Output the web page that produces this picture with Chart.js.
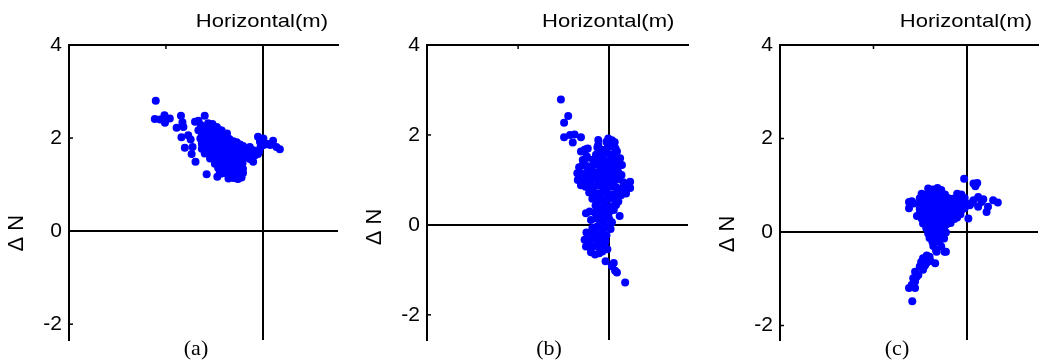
<!DOCTYPE html>
<html><head><meta charset="utf-8">
<script src="https://cdn.jsdelivr.net/npm/chart.js@4.4.1/dist/chart.umd.min.js"></script>
<style>
html,body{margin:0;padding:0;background:#fff;width:1042px;height:364px;overflow:hidden;}
.p{position:absolute;top:0;height:364px;}
canvas{display:block;}
</style></head><body>
<div class="p" style="left:0;width:350px"><canvas id="ca" width="350" height="364"></canvas></div>
<div class="p" style="left:350px;width:342px"><canvas id="cb" width="342" height="364"></canvas></div>
<div class="p" style="left:692px;width:350px"><canvas id="cc" width="350" height="364"></canvas></div>
<script>
const xTitle = 'Horizontal(m)';
const yTitle = 'Δ N';
const captions = ['(a)', '(b)', '(c)'];
const yTicks = [-2, 0, 2, 4];
const xTicks = [-4, -2, 0];

const pointsA = [
[-2.21,2.80],[-2.23,2.41],[-2.12,2.40],[-2.03,2.49],[-2.02,2.33],[-1.92,2.42],[-1.78,2.22],[-1.69,2.48],[-1.66,2.34],[-1.64,2.24],
[-1.68,2.02],[-1.54,2.06],[-1.49,1.97],[-1.61,1.79],[-1.45,1.81],[-1.47,1.66],[-1.39,1.49],[-1.40,2.35],[-1.33,2.37],[-1.20,2.48],
[-1.28,2.28],[-1.33,2.17],[-1.16,1.22],[-0.94,1.17],[-0.85,1.24],[-0.54,1.13],
[-1.13,2.32],[-1.04,2.30],[-0.95,2.24],[-0.85,2.16],[-0.74,2.10],[-0.54,1.91],[-0.41,1.83],
[-1.20,2.21],[-1.10,2.20],[-1.00,2.22],[-0.90,2.18],
[-1.26,2.10],[-1.16,2.11],[-1.06,2.08],[-0.96,2.10],[-0.86,2.07],[-0.76,2.04],
[-1.29,1.99],[-1.19,1.98],[-1.09,2.00],[-0.99,1.97],[-0.89,1.99],[-0.79,1.96],[-0.69,1.98],[-0.61,1.93],
[-1.26,1.88],[-1.16,1.87],[-1.06,1.89],[-0.96,1.86],[-0.86,1.88],[-0.76,1.85],[-0.66,1.87],[-0.56,1.84],[-0.47,1.86],
[-1.26,1.77],[-1.16,1.76],[-1.06,1.78],[-0.96,1.75],[-0.86,1.77],[-0.76,1.74],[-0.66,1.76],[-0.56,1.73],[-0.46,1.75],[-0.37,1.72],[-0.27,1.76],[-0.20,1.74],
[-1.20,1.67],[-1.10,1.65],[-1.00,1.68],[-0.90,1.66],[-0.80,1.64],[-0.70,1.67],[-0.60,1.65],[-0.50,1.63],[-0.40,1.66],[-0.30,1.64],[-0.20,1.62],[-0.10,1.66],
[-1.09,1.56],[-0.99,1.54],[-0.89,1.57],[-0.79,1.55],[-0.69,1.53],[-0.59,1.56],[-0.49,1.54],[-0.39,1.57],[-0.27,1.55],
[-0.99,1.45],[-0.89,1.44],[-0.79,1.46],[-0.69,1.43],[-0.59,1.45],[-0.49,1.44],[-0.42,1.46],
[-0.92,1.35],[-0.82,1.34],[-0.72,1.36],[-0.62,1.33],[-0.52,1.35],[-0.41,1.34],
[-0.89,1.24],[-0.79,1.25],[-0.69,1.23],[-0.59,1.26],[-0.49,1.24],[-0.41,1.25],
[-0.71,1.13],[-0.61,1.14],[-0.51,1.12],[-0.44,1.15],
[-0.34,1.71],[-0.27,1.81],[-0.23,1.56],[-0.16,1.63],[-0.13,1.72],[-0.20,1.49],[-0.10,2.03],[-0.06,1.92],[-0.05,1.80],[0.01,1.99],
[0.02,1.85],[0.08,1.88],[0.15,1.85],[0.21,1.94],[0.28,1.81],[0.35,1.76],[-0.08,1.70],[-0.30,1.62]
];

const pointsB = [
[-1.06,2.79],[-0.90,2.42],[-0.99,2.27],[-0.99,1.95],[-0.76,2.01],[-0.80,1.83],[-0.62,1.95],[-0.62,1.63],[-0.51,1.68],[-0.49,1.52],
[-0.24,1.89],[-0.24,1.78],[-0.86,2.00],[-0.54,1.67],[-0.47,1.70],[-0.58,1.44],
[-0.02,1.92],[0.06,1.88],[0.12,1.84],[-0.06,1.85],[0.10,1.78],
[-0.26,1.72],[-0.15,1.67],[-0.03,1.73],[0.07,1.75],[0.14,1.70],
[-0.29,1.56],[-0.17,1.58],[-0.07,1.60],[0.03,1.57],[0.13,1.60],[0.17,1.63],
[-0.51,1.48],[-0.36,1.45],[-0.22,1.46],[-0.12,1.44],[-0.02,1.42],[0.08,1.45],[0.18,1.43],[0.24,1.48],
[-0.66,1.28],[-0.59,1.32],[-0.49,1.31],[-0.39,1.29],[-0.29,1.34],[-0.19,1.30],[-0.09,1.28],[0.01,1.31],[0.11,1.29],[0.21,1.32],[0.28,1.33],
[-0.70,1.15],[-0.60,1.13],[-0.50,1.16],[-0.40,1.14],[-0.30,1.17],[-0.20,1.15],[-0.10,1.13],[0.00,1.16],[0.10,1.14],[0.20,1.17],[0.27,1.11],
[-0.69,1.00],[-0.59,0.98],[-0.49,1.01],[-0.39,0.99],[-0.29,1.02],[-0.19,1.00],[-0.09,0.98],[0.01,1.01],[0.11,0.99],[0.21,1.02],[0.31,0.95],[0.46,0.96],
[-0.62,0.88],[-0.52,0.85],[-0.45,0.86],[-0.35,0.84],[-0.25,0.87],[-0.15,0.85],[-0.05,0.83],[0.05,0.86],[0.15,0.84],[0.25,0.80],[0.35,0.83],[0.46,0.82],
[-0.44,0.72],[-0.34,0.71],[-0.24,0.69],[-0.14,0.72],[-0.04,0.70],[0.06,0.68],[0.16,0.71],[0.26,0.66],[0.37,0.70],
[-0.37,0.58],[-0.27,0.54],[-0.17,0.57],[-0.07,0.55],[0.03,0.58],[0.13,0.56],[0.20,0.52],
[-0.30,0.43],[-0.22,0.40],[-0.12,0.42],[-0.02,0.39],[0.08,0.41],[0.15,0.44],
[-0.51,0.26],[-0.43,0.30],[-0.31,0.27],[-0.21,0.25],[-0.11,0.28],[-0.01,0.26],[0.10,0.33],[0.23,0.20],
[-0.40,0.11],[-0.28,0.14],[-0.20,0.09],[-0.10,0.12],[0.00,0.13],[0.06,0.06],
[-0.37,-0.07],[-0.27,-0.04],[-0.18,-0.06],[-0.10,-0.02],[-0.02,-0.05],[0.03,-0.09],
[-0.50,-0.17],[-0.41,-0.21],[-0.32,-0.18],[-0.24,-0.22],[-0.14,-0.17],[-0.06,-0.23],
[-0.54,-0.33],[-0.44,-0.36],[-0.34,-0.31],[-0.24,-0.34],[-0.14,-0.30],[-0.08,-0.37],
[-0.51,-0.48],[-0.41,-0.51],[-0.31,-0.47],[-0.21,-0.50],[-0.12,-0.45],[-0.04,-0.54],
[-0.40,-0.61],[-0.31,-0.66],[-0.22,-0.63],[-0.15,-0.59],
[-0.08,-0.81],[0.10,-0.85],[0.06,-0.92],[0.17,-1.06],[0.13,-1.02],[0.35,-1.28]
];

const pointsC = [
[-0.06,1.14],[0.14,1.04],[0.22,1.05],[0.18,0.98],[0.56,0.68],[0.66,0.63],[0.45,0.54],[0.42,0.43],[0.24,0.75],[0.31,0.64],
[0.24,0.54],[0.14,0.68],[0.06,0.57],[0.03,0.29],[-0.14,0.79],[0.35,0.70],[0.10,0.62],
[-1.24,0.64],[-1.14,0.61],[-1.24,0.51],[-1.07,0.34],[-1.18,0.66],
[-0.83,0.93],[-0.73,0.91],[-0.63,0.94],[-0.55,0.90],
[-0.97,0.82],[-0.87,0.80],[-0.77,0.83],[-0.67,0.81],[-0.57,0.84],[-0.47,0.80],[-0.21,0.82],[-0.12,0.80],
[-1.01,0.72],[-0.91,0.70],[-0.81,0.73],[-0.71,0.71],[-0.61,0.74],[-0.51,0.70],[-0.41,0.73],[-0.31,0.71],[-0.21,0.74],[-0.11,0.70],[-0.05,0.73],
[-1.01,0.61],[-0.91,0.59],[-0.81,0.62],[-0.71,0.60],[-0.61,0.63],[-0.51,0.59],[-0.41,0.62],[-0.31,0.60],[-0.21,0.63],[-0.11,0.59],[-0.03,0.62],
[-1.01,0.50],[-0.91,0.48],[-0.81,0.51],[-0.71,0.49],[-0.61,0.52],[-0.51,0.48],[-0.41,0.51],[-0.31,0.49],[-0.21,0.52],[-0.11,0.48],[-0.05,0.51],
[-1.01,0.40],[-0.91,0.38],[-0.81,0.41],[-0.71,0.39],[-0.61,0.42],[-0.51,0.38],[-0.41,0.41],[-0.31,0.39],[-0.21,0.42],[-0.14,0.38],
[-0.97,0.29],[-0.87,0.27],[-0.77,0.30],[-0.67,0.28],[-0.57,0.31],[-0.47,0.27],[-0.37,0.30],[-0.27,0.28],[-0.21,0.31],
[-0.94,0.18],[-0.84,0.16],[-0.74,0.19],[-0.64,0.17],[-0.54,0.20],[-0.44,0.16],[-0.35,0.19],
[-0.87,0.08],[-0.77,0.06],[-0.67,0.09],[-0.57,0.07],[-0.49,0.10],
[-0.83,-0.03],[-0.73,-0.05],[-0.63,-0.02],[-0.53,-0.04],[-0.45,-0.01],
[-0.80,-0.13],[-0.70,-0.15],[-0.60,-0.12],[-0.49,-0.14],
[-0.74,-0.21],[-0.59,-0.21],[-0.55,-0.31],[-0.45,-0.42],[-0.66,-0.39],[-0.68,-0.67],[-0.80,-0.53],[-0.94,-0.56],[-0.87,-0.67],[-1.01,-0.74],
[-0.94,-0.81],[-1.11,-0.85],[-1.04,-0.92],[-1.15,-0.99],[-1.11,-1.06],[-1.18,-1.13],[-1.24,-1.20],[-1.11,-1.20],[-1.17,-1.48],[-0.48,-0.42],
[-0.65,-0.42],[-0.86,-0.50],[-0.72,-0.30],[-0.90,-0.72],[-0.98,-0.64],[-0.78,-0.62],[-1.08,-0.96]
];

const panelText = {
  id: 'panelText',
  afterDraw(chart, args, opts) {
    const ctx = chart.ctx, ca = chart.chartArea, x = chart.scales.x, y = chart.scales.y;
    ctx.save();
    ctx.strokeStyle = '#000'; ctx.lineWidth = 1.5;
    xTicks.forEach(v => {
      if (v === 0 || v === x.min) return;
      const px = x.getPixelForValue(v);
      ctx.beginPath(); ctx.moveTo(px, ca.top); ctx.lineTo(px, ca.top + 4); ctx.stroke();
    });
    yTicks.forEach(v => {
      if (v === 0 || v === y.max) return;
      const py = y.getPixelForValue(v);
      ctx.beginPath(); ctx.moveTo(ca.left, py); ctx.lineTo(ca.left + 4, py); ctx.stroke();
    });
    ctx.fillStyle = '#000';
    ctx.font = '19px "Liberation Sans", Arial, sans-serif';
    ctx.textAlign = 'center'; ctx.textBaseline = 'alphabetic';
    ctx.translate(x.getPixelForValue(0) - 1, 27);
    ctx.scale(1.16, 1);
    ctx.fillText(xTitle, 0, 0);
    ctx.restore();

    ctx.save();
    ctx.fillStyle = '#000';
    ctx.font = '22px "Liberation Sans", Arial, sans-serif';
    ctx.translate(ca.left - 52, y.getPixelForValue(0) + 2);
    ctx.rotate(-Math.PI / 2);
    ctx.textAlign = 'center'; ctx.textBaseline = 'middle';
    ctx.fillText(yTitle, 0, 0);
    ctx.restore();

    ctx.save();
    ctx.fillStyle = '#000';
    ctx.font = '22px "Liberation Serif", "Times New Roman", serif';
    ctx.textAlign = 'center'; ctx.textBaseline = 'alphabetic';
    ctx.fillText(opts.caption, ca.left + opts.capOffset, 355);
    ctx.restore();
  }
};

const zeroLine = c => (c.tick && c.tick.value === 0) ? '#000' : 'rgba(0,0,0,0)';

function makeChart(id, pts, cfg) {
  return new Chart(document.getElementById(id), {
    type: 'scatter',
    data: { datasets: [{
      data: pts.map(p => ({ x: p[0], y: p[1] })),
      backgroundColor: '#0000ff', borderWidth: 0, pointRadius: 4, pointHoverRadius: 4
    }] },
    options: {
      responsive: false, animation: false, events: [],
      layout: { padding: { top: 45, right: cfg.padRight, bottom: 24, left: 0 } },
      plugins: { legend: { display: false }, tooltip: { enabled: false },
        panelText: { caption: cfg.caption, capOffset: cfg.capOffset } },
      scales: {
        x: {
          type: 'linear', position: 'top', min: -4, max: cfg.xMax, z: 1,
          afterBuildTicks: s => { s.ticks = xTicks.map(v => ({ value: v })); },
          ticks: { display: false },
          grid: { drawTicks: false, color: zeroLine, lineWidth: 2 },
          border: { display: true, color: '#000', width: 2 }
        },
        y: {
          type: 'linear', min: cfg.yMin, max: 4, z: 1,
          afterBuildTicks: s => { s.ticks = yTicks.map(v => ({ value: v })); },
          afterFit: s => { s.width = cfg.yWidth; },
          ticks: { padding: 7, color: '#000', font: { family: '"Liberation Sans", Arial, sans-serif', size: 21 } },
          grid: { drawTicks: false, color: zeroLine, lineWidth: 2 },
          border: { display: true, color: '#000', width: 2 }
        }
      }
    },
    plugins: [panelText]
  });
}

makeChart('ca', pointsA, { yWidth: 69, padRight: 12, xMax: 1.55, yMin: -2.34, caption: captions[0], capOffset: 127 });
makeChart('cb', pointsB, { yWidth: 77, padRight: 0, xMax: 1.73, yMin: -2.56, caption: captions[1], capOffset: 122 });
makeChart('cc', pointsC, { yWidth: 88, padRight: 0, xMax: 1.52, yMin: -2.31, caption: captions[2], capOffset: 117 });
</script>
</body></html>
